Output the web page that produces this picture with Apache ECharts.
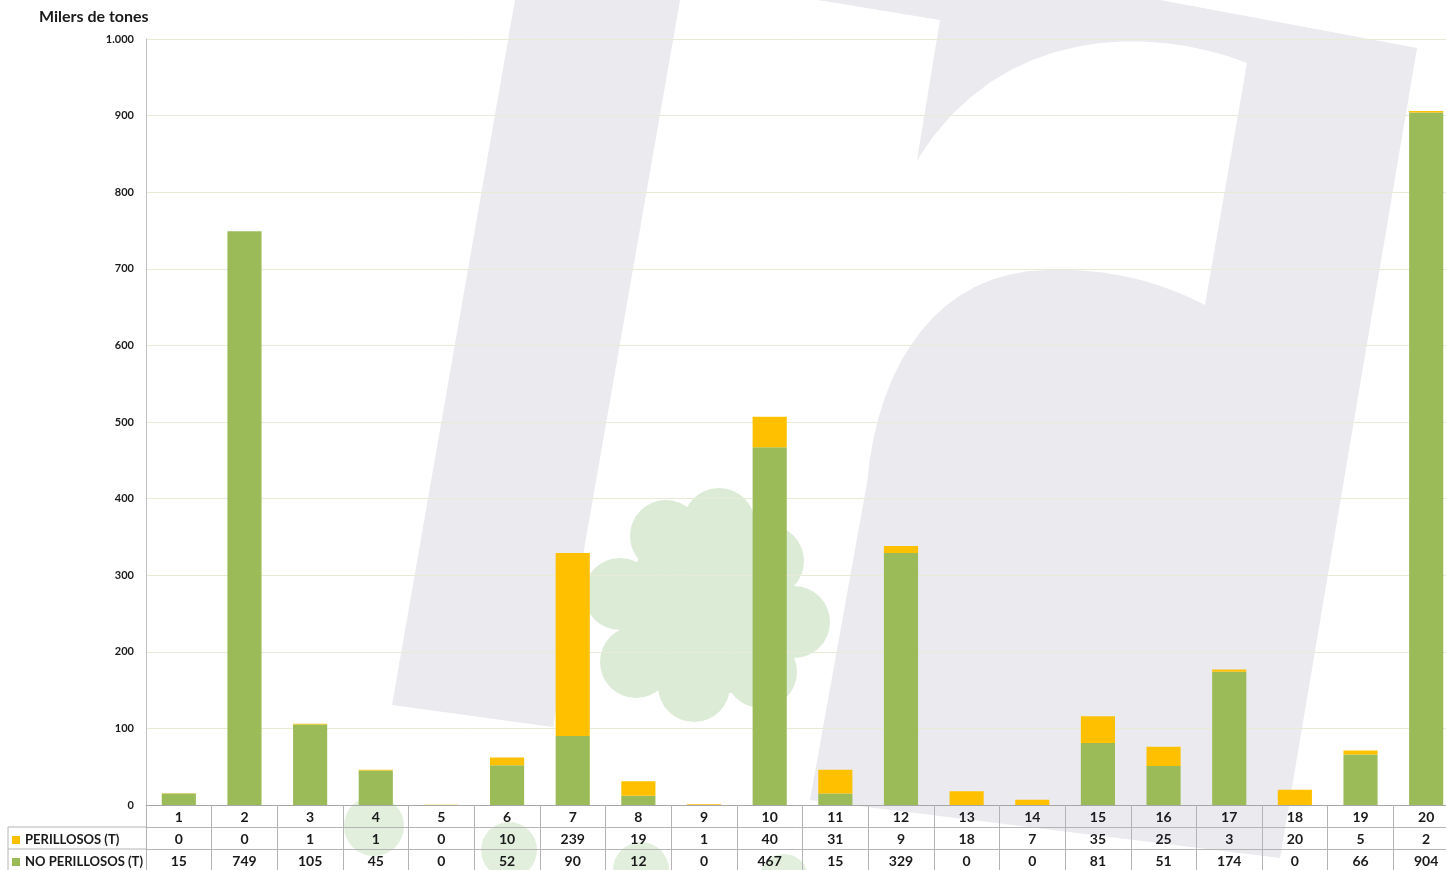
<!DOCTYPE html>
<html>
<head>
<meta charset="utf-8">
<title>Milers de tones</title>
<script src="https://cdn.jsdelivr.net/npm/echarts@6/dist/echarts.min.js"></script>
<style>
  html, body { margin: 0; padding: 0; background: #fff; }
  #chart { width: 1446px; height: 870px; }
</style>
</head>
<body>
<div id="chart"></div>
<script>
  // dades
  var categories = ['1', '2', '3', '4', '5', '6', '7', '8', '9', '10',
    '11', '12', '13', '14', '15', '16', '17', '18', '19', '20'];
  var perillosos = [0.4, 0, 1, 1, 0.4, 10, 239, 19, 1, 40, 31, 9, 18, 7, 35, 25, 3, 20, 5, 2];
  var noPerillosos = [15, 749, 105, 45, 0, 52, 90, 12, 0, 467, 15, 329, 0, 0, 81, 51, 174, 0, 66, 904];
  var yMax = 1000;
  var yStep = 100;

  var font = 'Lato, "Open Sans", sans-serif';
  var txt = '#1a1a1a';
  var tableLine = '#b4b4b4';
  var grey = '#eaeaef';
  var pale = '#dbebd5';

  function thousands(v) {
    if (v >= 1000) return Math.floor(v / 1000) + '.' + String(v % 1000).padStart(3, '0');
    return String(v);
  }

  // punts d'una corba bezier cubica (per a la marca d'aigua)
  function bez(p0, p1, p2, p3) {
    var out = [];
    for (var k = 1; k <= 16; k++) {
      var t = k / 16, u = 1 - t;
      out.push([
        u * u * u * p0[0] + 3 * u * u * t * p1[0] + 3 * u * t * t * p2[0] + t * t * t * p3[0],
        u * u * u * p0[1] + 3 * u * u * t * p1[1] + 3 * u * t * t * p2[1] + t * t * t * p3[1]
      ]);
    }
    return out;
  }

  // marca d'aigua del fons (decoracio)
  var leftStroke = [[515, 0], [680, 0], [553, 727], [392, 705]];
  var rightShape = [[818, 0], [1160, 0], [1417, 48], [1280, 858], [810, 800], [867, 483]]
    .concat(bez([867, 483], [878, 360], [940, 272], [1047, 270]))
    .concat(bez([1047, 270], [1110, 268], [1160, 282], [1205, 305]))
    .concat([[1247, 63]])
    .concat(bez([1247, 63], [1150, 25], [1000, 25], [917, 160]))
    .concat([[940, 20]]);
  var flowerLobes = [[666, 536], [719, 524], [768, 561], [794, 622], [761, 672], [694, 686], [636, 662], [620, 594]];
  var blobs = [[374, 826, 30], [509, 850, 28], [641, 870, 28], [784, 878, 24]];
  var bg = [
    { type: 'polygon', z: -10, silent: true, shape: { points: leftStroke }, style: { fill: grey } },
    { type: 'polygon', z: -10, silent: true, shape: { points: rightShape }, style: { fill: grey } },
    { type: 'circle', z: -9, silent: true, shape: { cx: 708, cy: 610, r: 86 }, style: { fill: pale } }
  ];
  flowerLobes.forEach(function (p) {
    bg.push({ type: 'circle', z: -9, silent: true, shape: { cx: p[0], cy: p[1], r: 36 }, style: { fill: pale } });
  });
  blobs.forEach(function (b) {
    bg.push({ type: 'circle', z: -9, silent: true, shape: { cx: b[0], cy: b[1], r: b[2] }, style: { fill: pale, opacity: 0.8 } });
  });
  // vores de la columna de llegenda de la taula
  [[8, 827, 146, 827], [8, 849, 146, 849], [8, 827, 8, 870]].forEach(function (l) {
    bg.push({ type: 'line', z: 5, silent: true,
      shape: { x1: l[0], y1: l[1], x2: l[2], y2: l[3] },
      style: { stroke: tableLine, lineWidth: 1 } });
  });

  var labelStyle = { fontFamily: font, fontWeight: 'bold', fontSize: 14, color: txt, margin: 5, interval: 0 };

  var chart = echarts.init(document.getElementById('chart'));
  chart.setOption({
    backgroundColor: '#fff',
    animation: false,
    title: {
      text: 'Milers de tones',
      left: 34,
      top: 4,
      textStyle: { fontFamily: font, fontSize: 16, fontWeight: 'bold', color: txt }
    },
    legend: {
      data: ['PERILLOSOS (T)', 'NO PERILLOSOS (T)'],
      orient: 'vertical',
      left: 12,
      top: 833,
      padding: 0,
      itemGap: 8,
      itemWidth: 8,
      itemHeight: 8,
      icon: 'rect',
      selectedMode: false,
      textStyle: { fontFamily: font, fontSize: 13, fontWeight: 'bold', color: txt, lineHeight: 14 }
    },
    grid: { left: 146, top: 39, width: 1313, bottom: 65, outerBoundsMode: 'none' },
    graphic: bg,
    xAxis: [
      {
        type: 'category',
        data: categories,
        axisLine: { lineStyle: { color: '#a6a6a6' } },
        axisTick: { show: true, length: 65, lineStyle: { color: tableLine } },
        axisLabel: labelStyle
      },
      {
        type: 'category',
        data: categories,
        position: 'bottom',
        offset: 22,
        axisLine: { lineStyle: { color: tableLine } },
        axisTick: { show: false },
        axisLabel: Object.assign({}, labelStyle, {
          formatter: function (v, i) { return String(Math.round(perillosos[i])); }
        })
      },
      {
        type: 'category',
        data: categories,
        position: 'bottom',
        offset: 44,
        axisLine: { lineStyle: { color: tableLine } },
        axisTick: { show: false },
        axisLabel: Object.assign({}, labelStyle, {
          formatter: function (v, i) { return String(Math.round(noPerillosos[i])); }
        })
      }
    ],
    yAxis: {
      type: 'value',
      min: 0,
      max: yMax,
      interval: yStep,
      axisLine: { show: true, lineStyle: { color: '#bfbfbf' } },
      axisTick: { show: false },
      splitLine: { lineStyle: { color: '#e8ecd6' } },
      axisLabel: {
        fontFamily: font, fontWeight: 'bold', fontSize: 11, color: txt, margin: 12,
        formatter: thousands
      }
    },
    series: [
      {
        name: 'NO PERILLOSOS (T)',
        type: 'bar',
        stack: 'total',
        barWidth: '52%',
        itemStyle: { color: '#9bbb59' },
        data: noPerillosos
      },
      {
        name: 'PERILLOSOS (T)',
        type: 'bar',
        stack: 'total',
        barWidth: '52%',
        itemStyle: { color: '#ffc000' },
        data: perillosos
      }
    ]
  });
</script>
</body>
</html>
